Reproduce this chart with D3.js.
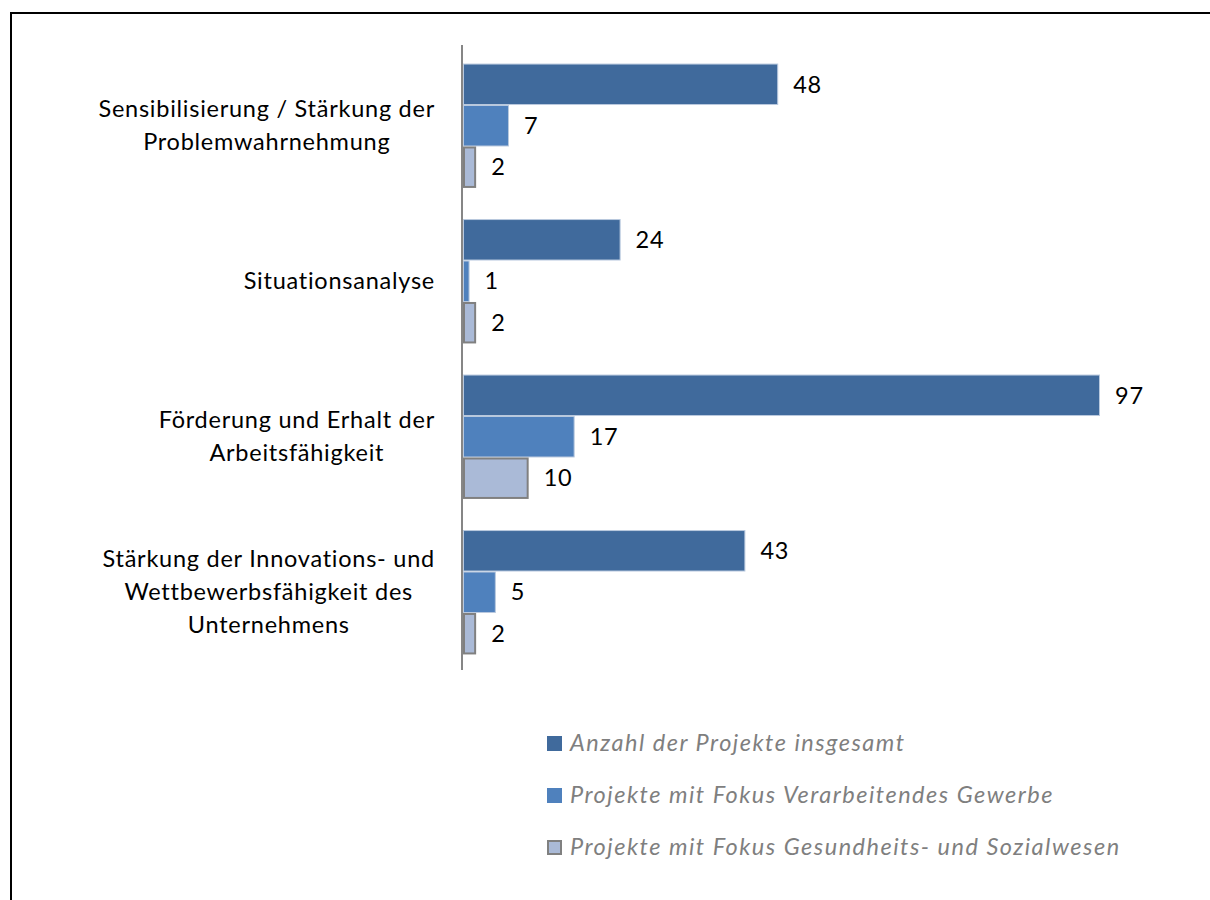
<!DOCTYPE html>
<html>
<head>
<meta charset="utf-8">
<script src="https://cdn.jsdelivr.net/npm/d3@7"></script>
<style>
body { margin: 0; background: #fff; }
svg { display: block; }
</style>
</head>
<body>
<svg width="1210" height="900"></svg>
<script>
// data
var categories = [
  ["Sensibilisierung / Stärkung der", "Problemwahrnehmung"],
  ["Situationsanalyse"],
  ["Förderung und Erhalt der", "Arbeitsfähigkeit"],
  ["Stärkung der Innovations-  und", "Wettbewerbsfähigkeit des", "Unternehmens"]
];
var seriesNames = [
  "Anzahl der Projekte insgesamt",
  "Projekte mit Fokus Verarbeitendes Gewerbe",
  "Projekte mit Fokus Gesundheits- und Sozialwesen"
];
var insgesamt = [48, 24, 97, 43];
var verarbeitend = [7, 1, 17, 5];
var gesundheit = [2, 2, 10, 2];

var colors = ["#406a9c", "#4f81bd", "#aabad7"];
var strokes = ["#b9c9de", "#b9c9de", "#808080"];

var svg = d3.select("svg"),
    width = +svg.attr("width"),
    height = +svg.attr("height");

var font = "Lato, 'Open Sans', sans-serif";
var fs = 23.5;

// outer frame
svg.append("rect")
  .attr("x", 11).attr("y", 13)
  .attr("width", width).attr("height", height)
  .attr("fill", "none").attr("stroke", "#000").attr("stroke-width", 2);

var x0 = 463;
var x = d3.scaleLinear().domain([0, 97]).range([x0, 1100]);

var y = d3.scaleBand()
  .domain(d3.range(categories.length))
  .range([48, 670])
  .paddingInner(0.2)
  .paddingOuter(0.1);

var y1 = d3.scaleBand()
  .domain(d3.range(3))
  .range([0, y.bandwidth()]);

var series = [insgesamt, verarbeitend, gesundheit];

var groups = svg.append("g").selectAll("g")
  .data(categories)
  .enter().append("g")
  .attr("transform", function(d, i) { return "translate(0," + y(i) + ")"; });

groups.each(function(c, i) {
  var g = d3.select(this);
  series.forEach(function(vals, s) {
    var sw = s == 2 ? 2 : 1;
    g.append("rect")
      .attr("x", x(0) + sw / 2)
      .attr("y", y1(s) + sw / 2)
      .attr("width", Math.max(x(vals[i]) - x(0) - sw, 1))
      .attr("height", y1.bandwidth() - sw)
      .attr("fill", colors[s])
      .attr("stroke", strokes[s])
      .attr("stroke-width", sw);

    g.append("text")
      .attr("x", x(vals[i]) + 15)
      .attr("y", y1(s) + y1.bandwidth() / 2)
      .attr("dy", "0.35em")
      .attr("font-family", font)
      .attr("font-size", fs)
      .attr("letter-spacing", 0.75)
      .attr("fill", "#000")
      .text(vals[i]);
  });

  // category label: block right-aligned, lines centred inside it
  var lh = 33;
  var lbl = g.append("g");
  var texts = c.map(function(line, k) {
    return lbl.append("text")
      .attr("y", y.bandwidth() / 2 + (k - (c.length - 1) / 2) * lh)
      .attr("dy", "0.35em")
      .attr("font-family", font)
      .attr("font-size", fs)
      .attr("letter-spacing", 0.75)
      .attr("fill", "#000")
      .attr("text-anchor", "middle")
      .text(line);
  });
  var maxW = d3.max(texts, function(t) { return t.node().getComputedTextLength(); });
  texts.forEach(function(t) { t.attr("x", 435 - maxW / 2); });
});

// vertical axis line
svg.append("line")
  .attr("x1", x0 - 1).attr("x2", x0 - 1)
  .attr("y1", 45).attr("y2", 670)
  .attr("stroke", "#868686").attr("stroke-width", 2);

// legend
var legend = svg.append("g").selectAll("g")
  .data(seriesNames)
  .enter().append("g")
  .attr("transform", function(d, i) { return "translate(547," + (743 + i * 52) + ")"; });

legend.append("rect")
  .attr("x", function(d, i) { return i == 2 ? 1 : 0; })
  .attr("y", function(d, i) { return i == 2 ? -6 : -7; })
  .attr("width", function(d, i) { return i == 2 ? 13 : 15; })
  .attr("height", function(d, i) { return i == 2 ? 13 : 15; })
  .attr("fill", function(d, i) { return colors[i]; })
  .attr("stroke", function(d, i) { return i == 2 ? "#808080" : "none"; })
  .attr("stroke-width", 2);

legend.append("text")
  .attr("x", 23)
  .attr("dy", "0.35em")
  .attr("font-family", font)
  .attr("font-size", fs)
  .attr("font-style", "italic")
  .attr("letter-spacing", 1.5)
  .attr("fill", "#7f7f7f")
  .text(function(d) { return d; });
</script>
</body>
</html>
